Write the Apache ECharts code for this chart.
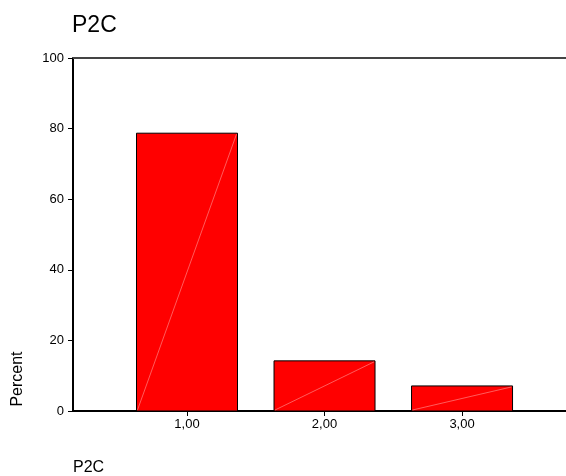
<!DOCTYPE html>
<html>
<head>
<meta charset="utf-8">
<script src="https://cdn.jsdelivr.net/npm/echarts@6/dist/echarts.min.js"></script>
<style>html,body{margin:0;padding:0;background:#fff}#c{width:566px;height:476px}</style>
</head>
<body>
<div id="c"></div>
<script>
const categories = [1, 2, 3];
const percents = [78.7, 14.2, 7.1];
const yTicks = [0, 20, 40, 60, 80, 100];
const titleText = 'P2C';
const xName = 'P2C';
const yName = 'Percent';

const FONT = '"Liberation Sans", Arial, sans-serif';
const chart = echarts.init(document.getElementById('c'), null, {renderer: 'canvas'});
const data = categories.map((c, i) => [c, percents[i]]);

chart.setOption({
  backgroundColor: '#fff',
  animation: false,
  title: {
    text: titleText, left: 72, top: 14, padding: 0,
    textStyle: {fontFamily: FONT, fontSize: 23, fontWeight: 'normal', color: '#000'}
  },
  grid: {left: 73, right: 0, top: 58, bottom: 65},
  xAxis: [{
    type: 'value', min: 0.171, max: 3.756,
    axisLine: {show: true, lineStyle: {color: '#000', width: 2}},
    axisTick: {show: true, customValues: categories, length: 5, lineStyle: {color: '#000'}},
    axisLabel: {show: true, customValues: categories, margin: 7,
      formatter: v => v.toFixed(2).replace('.', ','),
      fontFamily: FONT, fontSize: 13, color: '#000'},
    splitLine: {show: false}
  }, {
    type: 'value', position: 'top', min: 0.171, max: 3.756,
    axisLine: {show: true, onZero: false, lineStyle: {color: '#444', width: 2}},
    axisTick: {show: false}, axisLabel: {show: false}, splitLine: {show: false}
  }],
  yAxis: {
    type: 'value', min: 0, max: 100, interval: 20,
    axisLine: {show: true, lineStyle: {color: '#000', width: 2}},
    axisTick: {show: true, length: 5, lineStyle: {color: '#000'}},
    axisLabel: {margin: 9, fontFamily: FONT, fontSize: 13, color: '#000',
      customValues: yTicks},
    splitLine: {show: false}
  },
  graphic: [
    {type: 'text', left: 73, top: 460, style: {text: xName, font: '16px ' + FONT, fill: '#000'}},
    {type: 'text', x: 18, y: 379, rotation: Math.PI / 2,
      style: {text: yName, font: '16px ' + FONT, fill: '#000', align: 'center', verticalAlign: 'middle'}}
  ],
  series: [{
    type: 'custom',
    xAxisIndex: 0,
    data: data,
    renderItem: function (params, api) {
      const x = api.value(0), v = api.value(1);
      const bottom = api.coord([x, 0]);
      const top = api.coord([x, v]);
      const w = 101;
      const x0 = bottom[0] - w / 2;
      return {
        type: 'group',
        children: [
          {type: 'rect', shape: {x: x0, y: top[1], width: w, height: bottom[1] - top[1]},
            style: {fill: '#ff0000', stroke: '#000', lineWidth: 1}},
          {type: 'line', shape: {x1: x0 + 1, y1: bottom[1] - 1, x2: x0 + w - 1, y2: top[1] + 1},
            style: {stroke: 'rgba(255,170,170,0.9)', lineWidth: 0.6}}
        ]
      };
    }
  }]
});
</script>
</body>
</html>
